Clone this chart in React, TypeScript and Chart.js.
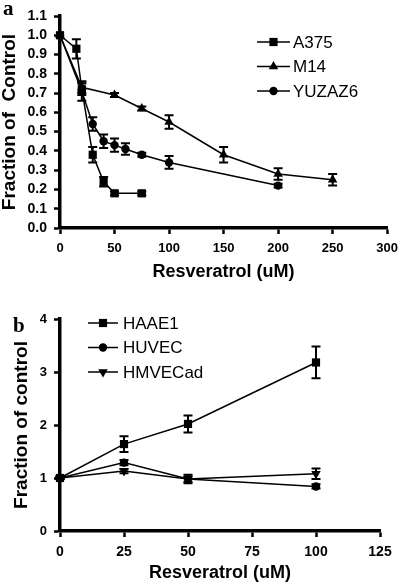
import React, { useEffect, useRef } from 'react';
import { Chart, registerables } from 'chart.js';

Chart.register(...registerables);

// ---------- Panel a data ----------
const A_X_TICKS = [0, 50, 100, 150, 200, 250, 300];
const A_Y_TICKS = [0, 0.1, 0.2, 0.3, 0.4, 0.5, 0.6, 0.7, 0.8, 0.9, 1.0, 1.1];

const A375_X = [0, 15, 20, 30, 40, 50, 75];
const A375_Y = [1.0, 0.93, 0.72, 0.38, 0.24, 0.18, 0.18];
const A375_E = [0, 0.05, 0.03, 0.04, 0.025, 0.01, 0.01];

const M14_X = [0, 20, 50, 75, 100, 150, 200, 250];
const M14_Y = [1.0, 0.73, 0.69, 0.62, 0.55, 0.38, 0.28, 0.25];
const M14_E = [0, 0.03, 0.01, 0.01, 0.035, 0.04, 0.03, 0.03];

const YUZAZ6_X = [0, 20, 30, 40, 50, 60, 75, 100, 200];
const YUZAZ6_Y = [1.0, 0.71, 0.54, 0.45, 0.43, 0.41, 0.38, 0.34, 0.22];
const YUZAZ6_E = [0, 0.05, 0.035, 0.035, 0.035, 0.03, 0.01, 0.033, 0.01];

// ---------- Panel b data ----------
const B_X_TICKS = [0, 25, 50, 75, 100, 125];
const B_Y_TICKS = [0, 1, 2, 3, 4];

const B_X = [0, 25, 50, 100];
const HAAE1_Y = [1.0, 1.64, 2.02, 3.18];
const HAAE1_E = [0.02, 0.15, 0.16, 0.3];
const HUVEC_Y = [1.0, 1.29, 0.98, 0.84];
const HUVEC_E = [0.02, 0.05, 0.05, 0.04];
const HMVEC_Y = [1.0, 1.13, 0.98, 1.08];
const HMVEC_E = [0.02, 0.04, 0.08, 0.1];

const FONT = 'Arial, "Liberation Sans", sans-serif';
const SERIF = '"Times New Roman", "Liberation Serif", serif';

const pts = (xs: number[], ys: number[]) => xs.map((x, i) => ({ x, y: ys[i] }));

function drawMarker(ctx: CanvasRenderingContext2D, style: string, x: number, y: number, r: number, rot: number) {
  ctx.beginPath();
  if (style === 'rect') {
    const s = r * Math.SQRT1_2;
    ctx.rect(x - s, y - s, 2 * s, 2 * s);
  } else if (style === 'circle') {
    ctx.arc(x, y, r, 0, Math.PI * 2);
  } else {
    const sgn = rot === 180 ? -1 : 1;
    const h = r * 1.5;
    const w = r * Math.sqrt(3) / 2;
    ctx.moveTo(x, y - sgn * (h * 2 / 3));
    ctx.lineTo(x - w, y + sgn * (h / 3));
    ctx.lineTo(x + w, y + sgn * (h / 3));
    ctx.closePath();
  }
  ctx.fill();
}

const extrasPlugin = {
  id: 'extras',
  afterDatasetsDraw(chart: any, _args: any, opts: any) {
    const ctx: CanvasRenderingContext2D = chart.ctx;
    const ys = chart.scales.y;
    ctx.save();
    ctx.strokeStyle = '#000';
    ctx.fillStyle = '#000';
    // error bars
    chart.data.datasets.forEach((ds: any, i: number) => {
      const errs: number[] = ds.errors;
      if (!errs) return;
      const meta = chart.getDatasetMeta(i);
      meta.data.forEach((pt: any, j: number) => {
        const e = errs[j];
        if (!e) return;
        const v = ds.data[j].y;
        const yt = ys.getPixelForValue(v + e);
        const yb = ys.getPixelForValue(v - e);
        const cw = opts.capHalf;
        ctx.lineWidth = 2;
        ctx.beginPath();
        ctx.moveTo(pt.x, yt); ctx.lineTo(pt.x, yb);
        ctx.moveTo(pt.x - cw, yt); ctx.lineTo(pt.x + cw, yt);
        ctx.moveTo(pt.x - cw, yb); ctx.lineTo(pt.x + cw, yb);
        ctx.stroke();
      });
    });
    // legend
    const lg = opts.legend;
    chart.data.datasets.forEach((ds: any, i: number) => {
      const y = lg.y + i * lg.gap;
      ctx.lineWidth = 1.5;
      ctx.beginPath();
      ctx.moveTo(lg.x1, y); ctx.lineTo(lg.x2, y);
      ctx.stroke();
      drawMarker(ctx, ds.pointStyle, (lg.x1 + lg.x2) / 2, y, ds.pointRadius, ds.pointRotation || 0);
      ctx.font = `${lg.size}px ${FONT}`;
      ctx.textBaseline = 'middle';
      ctx.textAlign = 'left';
      ctx.fillText(ds.label, lg.tx, y + 1);
    });
    // panel label
    ctx.font = `bold 21px ${SERIF}`;
    ctx.textBaseline = 'alphabetic';
    ctx.textAlign = 'left';
    ctx.fillText(opts.panel.text, opts.panel.x, opts.panel.y);
    ctx.restore();
  },
};

function ds(label: string, data: any[], errors: number[], style: string, radius: number, rotation = 0) {
  return {
    label,
    data,
    errors,
    borderColor: '#000',
    backgroundColor: '#000',
    borderWidth: 1.5,
    pointStyle: style,
    pointRadius: radius,
    pointRotation: rotation,
    pointBackgroundColor: '#000',
    pointBorderColor: '#000',
    pointBorderWidth: 0,
    tension: 0,
    clip: false,
  };
}

function axis(opts: any) {
  return {
    type: 'linear',
    min: opts.min,
    max: opts.max,
    afterBuildTicks: (s: any) => { s.ticks = opts.ticks.map((v: number) => ({ value: v })); },
    afterFit: opts.afterFit,
    ticks: {
      color: '#000',
      font: { family: FONT, size: opts.tickSize, weight: 'bold' },
      padding: 7,
      maxRotation: 0,
      autoSkip: false,
      callback: opts.fmt,
    },
    grid: {
      drawOnChartArea: false,
      drawTicks: true,
      tickLength: 6,
      tickWidth: 2.5,
      tickColor: '#000',
      color: '#000',
    },
    border: { display: true, width: 3.5, color: '#000' },
    title: {
      display: true,
      text: opts.title,
      color: '#000',
      font: { family: FONT, size: opts.titleSize, weight: 'bold', lineHeight: 1.2 },
      padding: opts.titlePad,
    },
  };
}

function configA(): any {
  return {
    type: 'line',
    data: {
      datasets: [
        ds('A375', pts(A375_X, A375_Y), A375_E, 'rect', 5.8),
        ds('M14', pts(M14_X, M14_Y), M14_E, 'triangle', 5.5),
        ds('YUZAZ6', pts(YUZAZ6_X, YUZAZ6_Y), YUZAZ6_E, 'circle', 4.2),
      ],
    },
    options: {
      responsive: false,
      animation: false,
      layout: { padding: { left: 0, top: 16, right: 13, bottom: 0 } },
      plugins: {
        legend: { display: false },
        tooltip: { enabled: false },
        extras: {
          capHalf: 4.5,
          legend: { x1: 257, x2: 290, tx: 293, y: 42, gap: 24.5, size: 17 },
          panel: { text: 'a', x: 3, y: 15 },
        },
      },
      scales: {
        x: axis({
          min: 0, max: 300, ticks: A_X_TICKS, tickSize: 13,
          fmt: (v: number) => String(v),
          title: 'Resveratrol (uM)', titleSize: 18,
          titlePad: { top: 0, bottom: 17 },
          afterFit: (s: any) => { s.height = 72; },
        }),
        y: axis({
          min: 0, max: 1.1, ticks: A_Y_TICKS, tickSize: 14,
          fmt: (v: number) => v.toFixed(1),
          title: 'Fraction of  Control', titleSize: 19,
          titlePad: { top: -2, bottom: 0 },
          afterFit: (s: any) => { s.width = 60; },
        }),
      },
    },
    plugins: [extrasPlugin],
  };
}

function configB(): any {
  return {
    type: 'line',
    data: {
      datasets: [
        ds('HAAE1', pts(B_X, HAAE1_Y), HAAE1_E, 'rect', 5.8),
        ds('HUVEC', pts(B_X, HUVEC_Y), HUVEC_E, 'circle', 4.2),
        ds('HMVECad', pts(B_X, HMVEC_Y), HMVEC_E, 'triangle', 5.5, 180),
      ],
    },
    options: {
      responsive: false,
      animation: false,
      layout: { padding: { left: 0, top: 19, right: 25, bottom: 0 } },
      plugins: {
        legend: { display: false },
        tooltip: { enabled: false },
        extras: {
          capHalf: 4.5,
          legend: { x1: 88, x2: 118, tx: 123, y: 23, gap: 24.5, size: 17 },
          panel: { text: 'b', x: 13, y: 32 },
        },
      },
      scales: {
        x: axis({
          min: 0, max: 125, ticks: B_X_TICKS, tickSize: 14,
          fmt: (v: number) => String(v),
          title: 'Resveratrol (uM)', titleSize: 18,
          titlePad: { top: 0, bottom: 1 },
          afterFit: (s: any) => { s.height = 54; },
        }),
        y: axis({
          min: 0, max: 4, ticks: B_Y_TICKS, tickSize: 13,
          fmt: (v: number) => String(v),
          title: 'Fraction of control', titleSize: 19,
          titlePad: { top: 10, bottom: 0 },
          afterFit: (s: any) => { s.width = 60; },
        }),
      },
    },
    plugins: [extrasPlugin],
  };
}

function Panel({ top, height, make }: { top: number; height: number; make: () => any }) {
  const ref = useRef<HTMLCanvasElement>(null);
  useEffect(() => {
    if (!ref.current) return;
    const chart = new Chart(ref.current, make());
    return () => chart.destroy();
  }, []);
  return (
    <div style={{ position: 'absolute', left: 0, top, width: 405, height }}>
      <canvas ref={ref} width={405} height={height} style={{ display: 'block' }} />
    </div>
  );
}

export default function App() {
  return (
    <div style={{ position: 'absolute', left: 0, top: 0, width: 405, height: 585, background: '#fff' }}>
      <Panel top={0} height={300} make={configA} />
      <Panel top={300} height={285} make={configB} />
    </div>
  );
}
